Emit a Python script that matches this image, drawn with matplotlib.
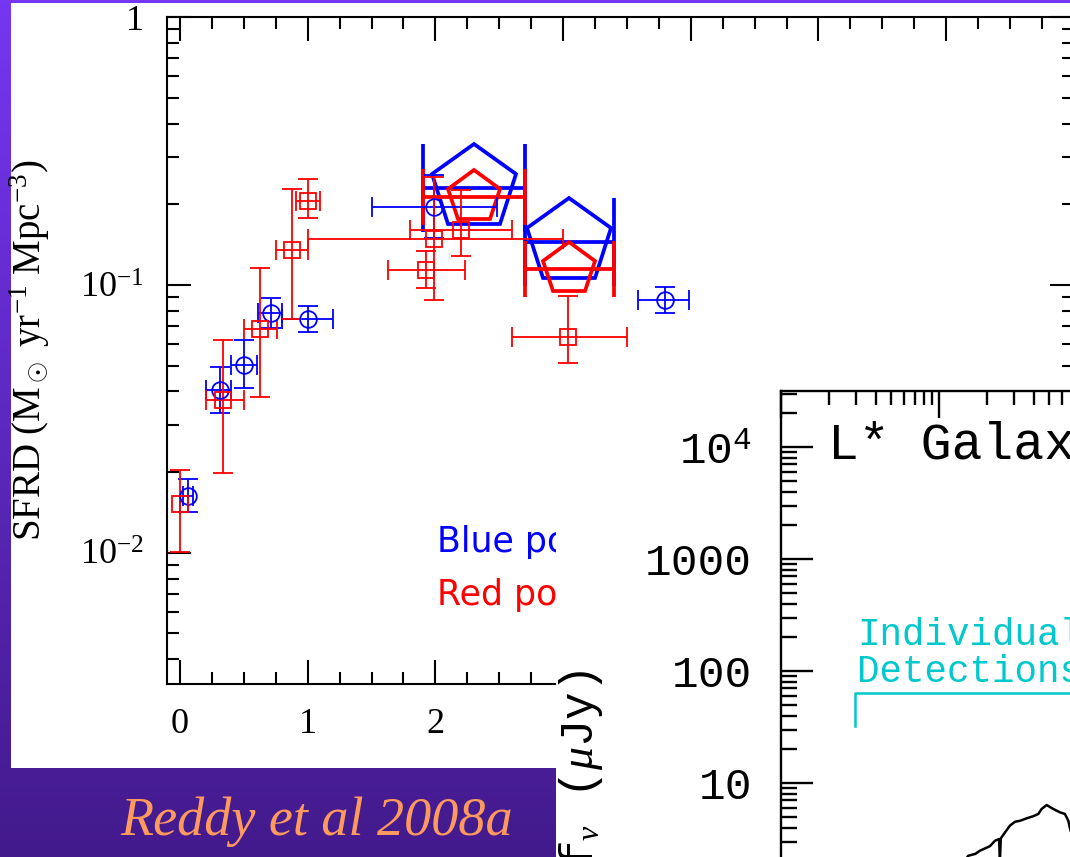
import numpy as np
import matplotlib
matplotlib.use('Agg')
import matplotlib.pyplot as plt
from matplotlib.patches import Rectangle
from matplotlib.colors import LinearSegmentedColormap
from matplotlib.ticker import (FixedLocator, FixedFormatter, LogLocator,
                               NullFormatter, MultipleLocator, FuncFormatter)

plt.rcParams['mathtext.fontset'] = 'custom'
plt.rcParams['mathtext.rm'] = 'Liberation Serif'
plt.rcParams['mathtext.it'] = 'Liberation Serif:italic'
plt.rcParams['mathtext.bf'] = 'Liberation Serif:bold'
plt.rcParams['mathtext.tt'] = 'Liberation Mono'

# ---------------- data: panel 1 (SFRD vs redshift) ----------------
blue_z    = [0.06, 0.31, 0.50, 0.71, 1.00, 1.99, 3.80]
blue_sfrd = [0.0163, 0.0406, 0.0503, 0.0786, 0.0747, 0.195, 0.088]
blue_lo   = [0.0142, 0.0333, 0.0413, 0.0690, 0.0668, 0.150, 0.0786]
blue_hi   = [0.0189, 0.0494, 0.0623, 0.0894, 0.0835, 0.257, 0.098]
blue_zlo  = [0.02, 0.20, 0.40, 0.61, 0.80, 1.50, 3.59]
blue_zhi  = [0.10, 0.40, 0.60, 0.80, 1.20, 2.48, 3.99]

red_z    = [0.00, 0.34, 0.63, 0.875, 1.00, 1.93, 1.99, 2.20, 3.04]
red_sfrd = [0.0152, 0.0372, 0.0685, 0.135, 0.206, 0.114, 0.148, 0.160, 0.064]
red_lo   = [0.0101, 0.0199, 0.0382, 0.0747, 0.178, 0.0975, 0.088, 0.128, 0.0512]
red_hi   = [0.0204, 0.0623, 0.1157, 0.228, 0.248, 0.134, 0.253, 0.226, 0.091]
red_zlo  = [0.00, 0.20, 0.50, 0.75, 0.91, 1.63, 1.00, 1.80, 2.60]
red_zhi  = [0.00, 0.50, 0.76, 1.00, 1.10, 2.23, 3.00, 2.60, 3.50]

bluep_z    = [2.30, 3.05]
bluep_sfrd = [0.230, 0.145]
bluep_zlo  = [1.90, 2.70]
bluep_zhi  = [2.70, 3.40]

redp_z    = [2.30, 3.05]
redp_sfrd = [0.2136, 0.1144]
redp_zlo  = [1.90, 2.70]
redp_zhi  = [2.70, 3.40]

z_ticks     = [0, 1, 2]
z_labels    = ['0', '1', '2']
sfrd_ticks  = [0.01, 0.1, 1.0]
sfrd_labels = [r'$10^{-2}$', r'$10^{-1}$', '1']

# ---------------- data: panel 2 (L* galaxy SED) ----------------
sed_wave = [1.20, 1.53, 1.70, 1.82, 1.95, 2.10, 2.26, 2.40, 2.43, 2.46, 2.62,
            2.81, 3.03, 3.26, 3.59, 3.95, 4.25, 4.46, 4.80, 5.29, 5.83, 6.27,
            6.58, 6.80, 8.00]
sed_flux = [1.30, 2.24, 2.33, 2.49, 2.60, 2.73, 3.05, 3.16, 2.00, 3.20, 3.63,
            4.16, 4.51, 4.60, 4.84, 5.05, 5.29, 5.86, 6.36, 5.86, 5.47, 5.29,
            4.60, 3.75, 2.50]
bracket_wave = [0.294, 0.294, 40.0]
bracket_flux = [32.3, 63.7, 63.7]
flux_ticks  = [10, 100, 1000, 1e4]
flux_labels = ['10', '100', '1000', r'$\mathtt{10}^{\mathtt{4}}$']

# ---------------- figure ----------------
W, H = 1070, 857
fig = plt.figure(figsize=(W / 100, H / 100), dpi=100)


def px_rect(x0, y0, x1, y1):
    return [x0 / W, 1 - y1 / H, (x1 - x0) / W, (y1 - y0) / H]


# background slide
bg = fig.add_axes([0, 0, 1, 1], zorder=0)
grad = np.linspace(0, 1, 256).reshape(-1, 1)
cmap = LinearSegmentedColormap.from_list('slide', ['#7636f3', '#431a8c'])
bg.imshow(grad, extent=[0, W, H, 0], aspect='auto', cmap=cmap)
bg.add_patch(Rectangle((11, 3), W - 11, 765, facecolor='white', edgecolor='none'))
bg.set_xlim(0, W)
bg.set_ylim(H, 0)
bg.axis('off')

# panel 1
ax1 = fig.add_axes(px_rect(167.2, 17, 167.2 + 7.1 * 127.7, 684), zorder=1)
ax1.set_facecolor('none')
ax1.set_yscale('log')
ax1.set_xlim(-0.1, 7.0)
ax1.set_ylim(10 ** -2.49, 1.0)

ax1.errorbar(bluep_z, bluep_sfrd,
             xerr=[np.subtract(bluep_z, bluep_zlo), np.subtract(bluep_zhi, bluep_z)],
             fmt='none', ecolor='#0000ff', elinewidth=2.7, capsize=32, capthick=2.7)
ax1.plot(bluep_z, bluep_sfrd, 'p', ms=64, mfc='none', mec='#0000ff', mew=2.7)
ax1.errorbar(redp_z, redp_sfrd,
             xerr=[np.subtract(redp_z, redp_zlo), np.subtract(redp_zhi, redp_z)],
             fmt='none', ecolor='#ff0000', elinewidth=2.7, capsize=20, capthick=2.7)
ax1.plot(redp_z, redp_sfrd, 'p', ms=39, mfc='none', mec='#ff0000', mew=2.7)

ax1.errorbar(blue_z, blue_sfrd,
             xerr=[np.subtract(blue_z, blue_zlo), np.subtract(blue_zhi, blue_z)],
             yerr=[np.subtract(blue_sfrd, blue_lo), np.subtract(blue_hi, blue_sfrd)],
             fmt='o', ms=12, mfc='none', mec='#0000ff', mew=1.3, color='#0000ff',
             elinewidth=1.3, capsize=7, capthick=1.3)
ax1.errorbar(red_z, red_sfrd,
             xerr=[np.subtract(red_z, red_zlo), np.subtract(red_zhi, red_z)],
             yerr=[np.subtract(red_sfrd, red_lo), np.subtract(red_hi, red_sfrd)],
             fmt='s', ms=11, mfc='none', mec='#ff0000', mew=1.3, color='#ff0000',
             elinewidth=1.3, capsize=7, capthick=1.3)

ax1.xaxis.set_major_locator(MultipleLocator(1))
ax1.xaxis.set_minor_locator(MultipleLocator(0.25))
ax1.xaxis.set_major_formatter(
    FuncFormatter(lambda v, p: z_labels[z_ticks.index(int(round(v)))]
                  if int(round(v)) in z_ticks else ''))
ax1.yaxis.set_major_locator(FixedLocator(sfrd_ticks))
ax1.yaxis.set_major_formatter(FixedFormatter(sfrd_labels))
ax1.yaxis.set_minor_locator(LogLocator(base=10, subs=np.arange(2, 10)))
ax1.yaxis.set_minor_formatter(NullFormatter())
ax1.tick_params(which='both', direction='in', top=True, right=True, width=1.5)
ax1.tick_params(which='major', length=17, pad=17,
                labelfontfamily='Liberation Serif')
ax1.tick_params(which='major', labelsize=26)
ax1.tick_params(which='minor', length=8.5)
for s in ax1.spines.values():
    s.set_linewidth(1.5)

ax1.text(0.2976, 0.198, 'Blue points', transform=ax1.transAxes, color='#0000ff',
         fontsize=25, family='DejaVu Sans', va='baseline')
ax1.text(0.2976, 0.118, 'Red points', transform=ax1.transAxes, color='#ff0000',
         fontsize=25, family='DejaVu Sans', va='baseline')

fig.text(30 / W, 1 - 350 / H, r'SFRD (M$_\odot$ yr$^{-1}$ Mpc$^{-3}$)',
         rotation=90, ha='center', va='center', fontsize=28,
         family='Liberation Serif', zorder=10)

# overlay sheet for panel 2
ov = fig.add_axes([0, 0, 1, 1], zorder=2)
ov.add_patch(Rectangle((556, 372), W - 556, H - 372, facecolor='white', edgecolor='none'))
ov.set_xlim(0, W)
ov.set_ylim(H, 0)
ov.axis('off')

# panel 2
ax2 = fig.add_axes(px_rect(781, 391, 781 + 632, 1007), zorder=3)
ax2.set_xscale('log')
ax2.set_yscale('log')
ax2.set_xlim(0.1, 1000)
ax2.set_ylim(0.1, 10 ** 4.5)
ax2.plot(sed_wave, sed_flux, color='black', lw=1.8)
ax2.plot(bracket_wave, bracket_flux, color='#00c8cc', lw=1.8)

ax2.yaxis.set_major_locator(FixedLocator(flux_ticks))
ax2.yaxis.set_major_formatter(FixedFormatter(flux_labels))
ax2.yaxis.set_minor_locator(LogLocator(base=10, subs=np.arange(2, 10)))
ax2.yaxis.set_minor_formatter(NullFormatter())
ax2.xaxis.set_major_locator(LogLocator(base=10))
ax2.xaxis.set_minor_locator(LogLocator(base=10, subs=np.arange(2, 10)))
ax2.xaxis.set_major_formatter(NullFormatter())
ax2.xaxis.set_minor_formatter(NullFormatter())
ax2.tick_params(which='both', direction='in', top=True, bottom=True, width=1.7)
ax2.tick_params(axis='y', which='major', length=23, pad=21,
                labelfontfamily='Liberation Mono')
ax2.tick_params(axis='y', which='major', labelsize=32)
ax2.tick_params(axis='y', which='minor', length=11.5)
ax2.tick_params(axis='x', which='major', length=19.5)
ax2.tick_params(axis='x', which='minor', length=10)
for s in ax2.spines.values():
    s.set_linewidth(1.7)

fig.text(828 / W, 1 - 459 / H, 'L* Galaxy', fontsize=37,
         family='Liberation Mono', va='baseline', zorder=10)
fig.text(857 / W, 1 - 645 / H, 'Individual', fontsize=27, color='#00c8cc',
         family='Liberation Mono', va='baseline', zorder=10)
fig.text(857 / W, 1 - 682 / H, 'Detections', fontsize=27, color='#00c8cc',
         family='Liberation Mono', va='baseline', zorder=10)
fig.text(581 / W, 1 - 670 / H, r'f$_\nu$ ($\mu$Jy)', rotation=90, ha='center',
         va='top', fontsize=33, family='Liberation Mono', zorder=10)

# caption
fig.text(120 / W, 1 - 835 / H, 'Reddy et al 2008a', fontsize=39, style='italic',
         family='Liberation Serif', color='#ff9a5e', va='baseline', zorder=10)

fig.savefig('out.png', dpi=100)
